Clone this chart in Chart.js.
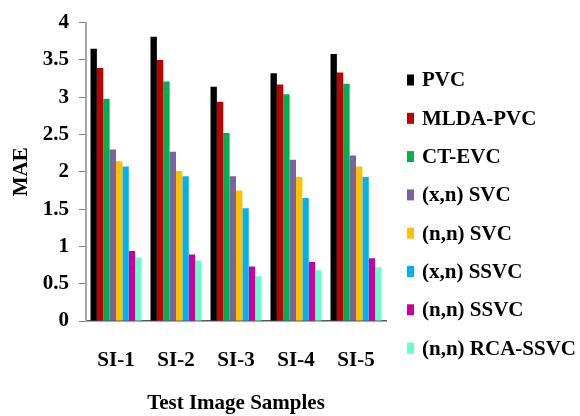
<!DOCTYPE html>
<html><head><meta charset="utf-8">
<script src="https://cdn.jsdelivr.net/npm/chart.js@4/dist/chart.umd.min.js"></script>
<style>html,body{margin:0;padding:0;background:#fff;}#wrap{width:580px;height:416px;}</style>
</head><body><div id="wrap"><canvas id="c" width="580" height="416"></canvas></div>
<script>
const categories = ['SI-1','SI-2','SI-3','SI-4','SI-5'];
const seriesNames = ['PVC','MLDA-PVC','CT-EVC','(x,n) SVC','(n,n) SVC','(x,n) SSVC','(n,n) SSVC','(n,n) RCA-SSVC'];
const pvc      = [3.65, 3.81, 3.14, 3.32, 3.58];
const mldaPvc  = [3.39, 3.50, 2.94, 3.17, 3.33];
const ctEvc    = [2.98, 3.21, 2.52, 3.04, 3.18];
const xnSvc    = [2.30, 2.27, 1.94, 2.16, 2.22];
const nnSvc    = [2.14, 2.01, 1.75, 1.93, 2.07];
const xnSsvc   = [2.07, 1.94, 1.51, 1.65, 1.93];
const nnSsvc   = [0.94, 0.89, 0.73, 0.79, 0.84];
const nnRcaSsvc= [0.85, 0.81, 0.60, 0.68, 0.72];
const yTicksMin = 0, yTicksMax = 4, yTickStep = 0.5;

const seriesValues = [pvc, mldaPvc, ctEvc, xnSvc, nnSvc, xnSsvc, nnSsvc, nnRcaSsvc];
const colors = ['#000000','#c00000','#00b050','#7b62a0','#ffc000','#00b0f0','#cc0099','#66ffcc'];
const FONT = {family:'"Liberation Serif", "Times New Roman", serif', size:21, weight:'bold'};

const sideLegend = {
  id:'sideLegend',
  afterDraw(chart){
    const ctx = chart.ctx;
    ctx.save();
    ctx.font = 'bold 21px "Liberation Serif"';
    ctx.textBaseline = 'middle';
    ctx.textAlign = 'left';
    chart.data.datasets.forEach((ds,i)=>{
      const cy = 80 + i*38.3;
      ctx.fillStyle = ds.backgroundColor;
      ctx.fillRect(407, cy-5.5, 7, 11);
      ctx.fillStyle = '#000';
      ctx.fillText(ds.label, 422, cy+1);
    });
    ctx.restore();
  }
};

new Chart(document.getElementById('c'), {
  type:'bar',
  data:{
    labels:categories,
    datasets: seriesNames.map((n,i)=>({label:n, data:seriesValues[i], backgroundColor:colors[i], borderWidth:0,
      barPercentage:1.0, categoryPercentage:0.85}))
  },
  options:{
    responsive:false, animation:false, devicePixelRatio:1,
    layout:{padding:{left:0,right:194,top:17,bottom:0}},
    plugins:{legend:{display:false}, tooltip:{enabled:false}},
    scales:{
      x:{
        grid:{display:false, drawTicks:false},
        border:{color:'#595959', width:1.5},
        ticks:{padding:27, color:'#000', font:FONT},
        title:{display:true, text:'Test Image Samples', color:'#000', font:FONT, padding:{top:0,bottom:0}},
        afterFit(s){ s.height = 95; }
      },
      y:{
        min:yTicksMin, max:yTicksMax,
        ticks:{stepSize:yTickStep, padding:10, color:'#000', font:FONT, callback:(v)=>String(v)},
        grid:{drawOnChartArea:false, drawTicks:true, tickLength:7, color:'#7f7f7f'},
        border:{color:'#a6a6a6', width:2},
        title:{display:true, text:'MAE', color:'#000', font:FONT, padding:{top:9,bottom:0}},
        afterFit(s){ s.width = 86; }
      }
    }
  },
  plugins:[sideLegend]
});
</script></body></html>
